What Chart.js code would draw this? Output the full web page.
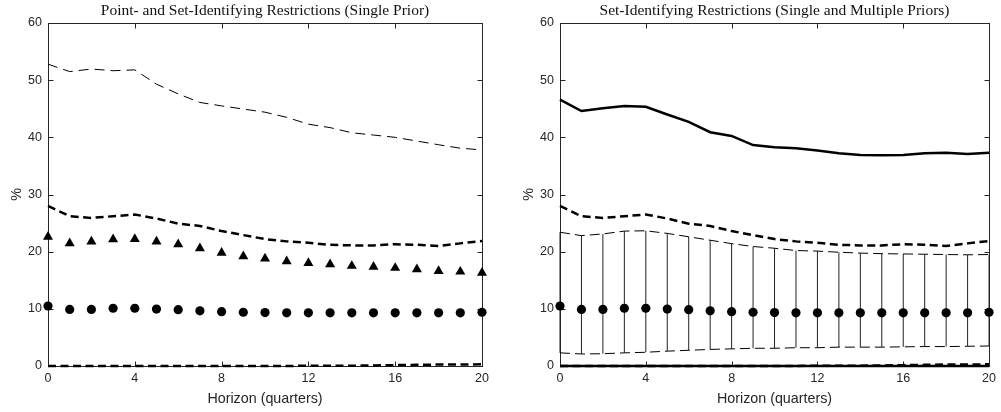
<!DOCTYPE html>
<html><head><meta charset="utf-8">
<script src="https://cdn.jsdelivr.net/npm/chart.js@4.4.0/dist/chart.umd.min.js"></script>
<style>
html,body{margin:0;padding:0;background:#fff;overflow:hidden;}
#wrap{position:relative;width:1001px;height:412px;}
#c1{position:absolute;left:0;top:0;width:500px;height:412px;}
#c2{position:absolute;left:512px;top:0;width:489px;height:412px;}
</style></head><body>
<div id="wrap"><canvas id="c1" width="500" height="412"></canvas><canvas id="c2" width="489" height="412"></canvas></div>
<script>
const horizons = [0,1,2,3,4,5,6,7,8,9,10,11,12,13,14,15,16,17,18,19,20];
const xTickValues = [0,4,8,12,16,20];
const yTickValues = [0,10,20,30,40,50,60];

const leftTitle = 'Point- and Set-Identifying Restrictions (Single Prior)';
const rightTitle = 'Set-Identifying Restrictions (Single and Multiple Priors)';
const xLabel = 'Horizon (quarters)';
const yLabel = '%';

// left panel
const leftUpperDashed = [52.8,51.5,51.95,51.65,51.8,49.3,47.6,46.1,45.5,44.95,44.4,43.5,42.3,41.7,40.8,40.4,40.0,39.35,38.7,38.1,37.8];
const medianDashed = [28.0,26.2,25.9,26.2,26.5,25.8,24.9,24.5,23.6,22.9,22.2,21.8,21.55,21.2,21.1,21.1,21.3,21.2,21.0,21.45,21.85];
const triangleValues = [22.6,21.45,21.75,22.15,22.2,21.75,21.3,20.6,19.8,19.2,18.8,18.3,18.0,17.8,17.5,17.35,17.15,16.9,16.6,16.5,16.3];
const circleValues = [10.5,9.9,9.9,10.1,10.1,9.95,9.85,9.65,9.5,9.4,9.35,9.3,9.3,9.3,9.3,9.3,9.3,9.3,9.3,9.3,9.4];
const bottomDashed = [0,0,0,0,0,0,0,0,0,0,0,0,0.05,0.05,0.05,0.1,0.15,0.2,0.25,0.25,0.3];

// right panel
const rightSolid = [46.6,44.6,45.1,45.5,45.35,44.0,42.7,40.9,40.25,38.65,38.25,38.1,37.7,37.2,36.9,36.85,36.9,37.2,37.3,37.1,37.3];
const bandUpper = [23.4,22.8,23.1,23.6,23.65,23.2,22.6,22.0,21.4,20.9,20.6,20.2,20.1,19.9,19.75,19.65,19.6,19.55,19.5,19.45,19.5];
const bandLower = [2.3,2.1,2.15,2.3,2.4,2.6,2.75,2.9,3.0,3.1,3.1,3.2,3.2,3.3,3.3,3.3,3.35,3.4,3.4,3.45,3.5];
const bottomSolid = [0,0,0,0,0,0,0,0,0,0,0,0,0,0,0,0,0,0,0,0,0];

const AX = '#262626';
const TICK_FONT = {family:'"Liberation Sans", Arial, sans-serif', size:12.5};
const LABEL_FONT = {family:'"Liberation Sans", Arial, sans-serif', size:14.3};

function pts(vals){ return horizons.map((h,i)=>({x:h,y:vals[i]})); }
function barPts(lo,hi){
  const out=[];
  horizons.forEach((h,i)=>{ out.push({x:h,y:lo[i]}); out.push({x:h,y:hi[i]}); out.push({x:h,y:null}); });
  return out;
}
function line(vals, width, dash, order){
  return {data:pts(vals), borderColor:'#000', borderWidth:width, borderDash:dash, pointRadius:0, showLine:true, fill:false, tension:0, clip:false, order:order, borderCapStyle:'butt'};
}
function markers(vals, style, r, order){
  return {data:pts(vals), showLine:false, pointStyle:style, pointRadius:r, pointHoverRadius:r, backgroundColor:'#000', borderColor:'#000', borderWidth:0, clip:false, order:order};
}

const framePlugin = {
  id:'frame',
  beforeDatasetsDraw(chart){
    const {ctx, chartArea:a, scales:{x,y}} = chart;
    ctx.save();
    ctx.strokeStyle = AX; ctx.lineWidth = 1;
    const L=Math.round(a.left)+0.5, R=Math.round(a.right)+0.5, T=Math.round(a.top)+0.5, B=Math.round(a.bottom)+0.5;
    ctx.strokeRect(L, T, R-L, B-T);
    const tl = 5;
    ctx.beginPath();
    xTickValues.forEach(v=>{ const px=Math.round(x.getPixelForValue(v))+0.5; ctx.moveTo(px,B); ctx.lineTo(px,B-tl); ctx.moveTo(px,T); ctx.lineTo(px,T+tl); });
    yTickValues.forEach(v=>{ const py=Math.round(y.getPixelForValue(v))+0.5; ctx.moveTo(L,py); ctx.lineTo(L+tl,py); ctx.moveTo(R,py); ctx.lineTo(R-tl,py); });
    ctx.stroke();
    ctx.restore();
  },
  afterDraw(chart, args, opts){
    const {ctx, chartArea:a} = chart;
    ctx.save();
    ctx.fillStyle = '#111';
    ctx.font = '15.5px "Liberation Serif", "Times New Roman", serif';
    ctx.textAlign = 'center'; ctx.textBaseline = 'middle';
    ctx.fillText(opts.text, (a.left+a.right)/2, 11);
    ctx.restore();
  }
};

function makeChart(id, title, datasets, padRight){
  return new Chart(document.getElementById(id), {
    type:'scatter',
    data:{datasets},
    options:{
      responsive:false, animation:false, devicePixelRatio:1,
      layout:{padding:{top:23, right:padRight, bottom:0, left:0}},
      plugins:{legend:{display:false}, tooltip:{enabled:false}, frame:{text:title}},
      scales:{
        x:{type:'linear', min:0, max:20,
           grid:{display:false, drawTicks:false, tickLength:0}, border:{display:false},
           afterBuildTicks(s){ s.ticks = xTickValues.map(v=>({value:v})); },
           afterFit(s){ s.height = 46; },
           ticks:{color:AX, font:TICK_FONT, padding:5, maxRotation:0, autoSkip:false},
           title:{display:true, text:xLabel, color:AX, font:LABEL_FONT, padding:{top:0,bottom:4.5}}},
        y:{type:'linear', min:0, max:60,
           grid:{display:false, drawTicks:false, tickLength:0}, border:{display:false},
           afterBuildTicks(s){ s.ticks = yTickValues.map(v=>({value:v})); },
           afterFit(s){ s.width = 48; },
           ticks:{color:AX, font:TICK_FONT, padding:6},
           title:{display:true, text:yLabel, color:AX, font:LABEL_FONT, padding:{top:8,bottom:0}}}
      }
    },
    plugins:[framePlugin]
  });
}

makeChart('c1', leftTitle, [
  line(leftUpperDashed, 1, [10,6], 1),
  line(medianDashed, 2.5, [8,4.5], 2),
  markers(triangleValues, 'triangle', 5.8, 3),
  markers(circleValues, 'circle', 4.6, 4),
  line(bottomDashed, 2.5, [8,4.5], 5)
], 18);

makeChart('c2', rightTitle, [
  line(rightSolid, 2.5, [], 1),
  line(medianDashed, 2.5, [8,4.5], 2),
  line(bandUpper, 1, [10,5], 3),
  line(bandLower, 1, [10,5], 4),
  {data:barPts(bandLower, bandUpper), borderColor:'#222', borderWidth:1, pointRadius:0, showLine:true, spanGaps:false, clip:false, order:5},
  markers(circleValues, 'circle', 4.6, 0),
  line(bottomSolid, 2.5, [], 6),
  line(bottomDashed, 2.5, [8,4.5], 7)
], 7);
</script>
</body></html>
